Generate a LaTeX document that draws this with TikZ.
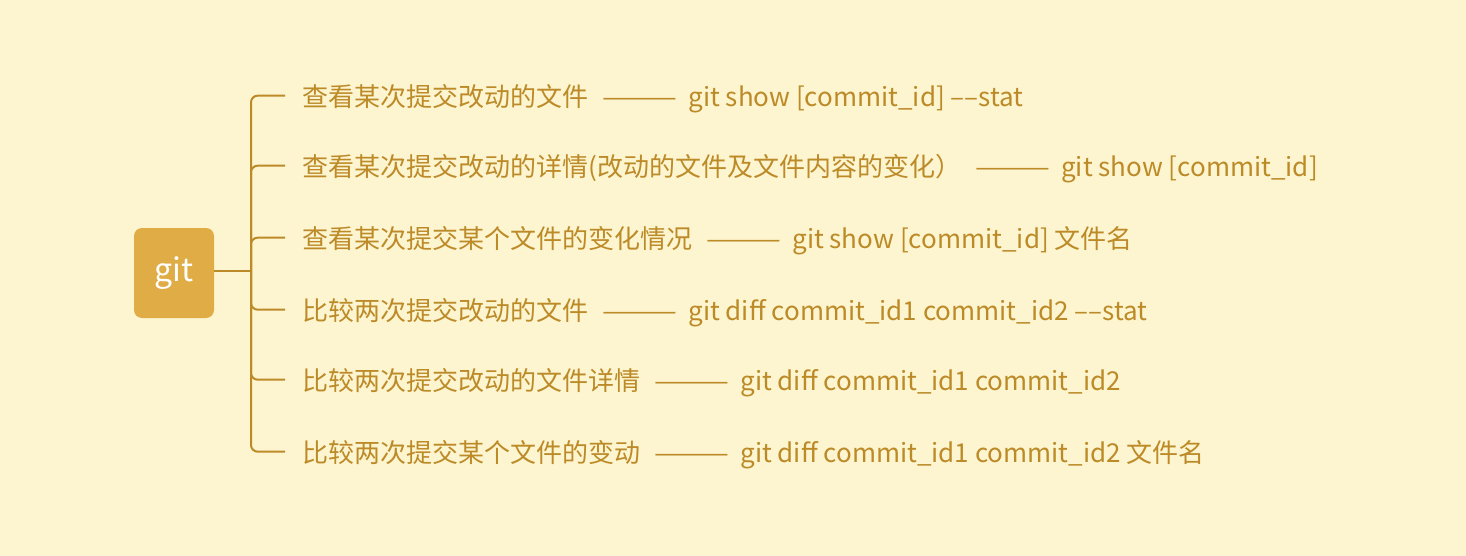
\documentclass[tikz,border=0pt]{standalone}
\usepackage{fontspec}
\setmainfont{Noto Sans CJK SC}
\usepackage{tikz}

\definecolor{paper}{HTML}{FCF5CF}
\definecolor{gold}{HTML}{E0AC45}
\definecolor{ink}{HTML}{BD8A28}

% dash between a task and its command
\newcommand{\dashsep}{\hspace{11pt}\scalebox{1.17}[1]{———}\hspace{8pt}}

\tikzset{
  root/.style={fill=gold, rounded corners=6pt, minimum width=60pt, minimum height=67.5pt,
    inner sep=0, text=white, font=\fontsize{24}{28}\selectfont},
  leaf/.style={anchor=west, inner sep=0, text=ink, font=\fontsize{19.5}{23}\selectfont},
  branch/.style={draw=ink, line width=1.5pt, rounded corners=5pt}
}

\begin{document}
\begin{tikzpicture}[x=0.75pt, y=-0.75pt]
        \fill[paper] (0,0) rectangle (1466,556);
        \useasboundingbox (0,0) rectangle (1466,556);
        % root node
        \node[root] (git) at (174,273) {git};
        % spine of the tree
        \coordinate (spine) at (251,271);
        % the six leaves
        \node[leaf] (t1) at (302,99) {查看某次提交改动的文件\dashsep git show [commit\_id] ––stat};
        \node[leaf] (t2) at (302,169) {查看某次提交改动的详情(改动的文件及文件内容的变化）\dashsep git show [commit\_id]};
        \node[leaf] (t3) at (302,241) {查看某次提交某个文件的变化情况\dashsep git show [commit\_id] 文件名};
        \node[leaf] (t4) at (302,313) {比较两次提交改动的文件\dashsep git diff commit\_id1 commit\_id2 ––stat};
        \node[leaf] (t5) at (302,383) {比较两次提交改动的文件详情\dashsep git diff commit\_id1 commit\_id2};
        \node[leaf] (t6) at (302,455) {比较两次提交某个文件的变动\dashsep git diff commit\_id1 commit\_id2 文件名};
        % connectors
        \draw[branch] (git.east |- spine) -- (spine);
        \foreach \t in {t1,t2,t3,t4,t5,t6}
          \draw[branch] (spine) |- ([xshift=-17*0.75pt,yshift=2.5pt]\t.west);
      \end{tikzpicture}
\end{document}
